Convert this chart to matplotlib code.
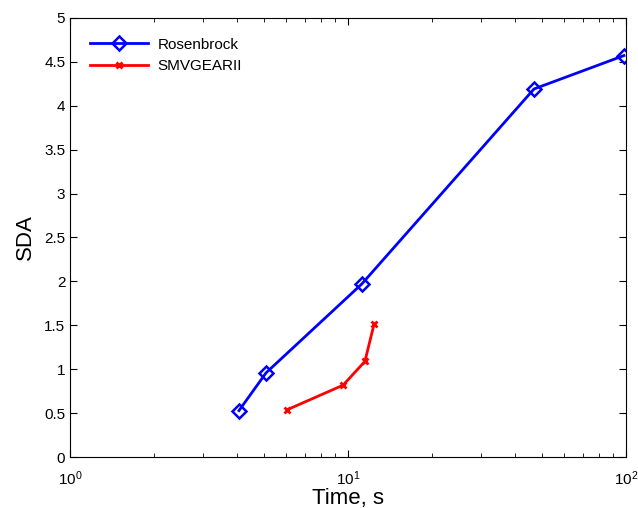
import matplotlib
matplotlib.use('Agg')
import matplotlib.pyplot as plt

plt.rcParams['font.family'] = ['Liberation Sans', 'DejaVu Sans']

# data
ros_time = [4.05, 5.07, 11.2, 46.7, 98.4]
ros_sda = [0.53, 0.96, 1.97, 4.19, 4.57]
smv_time = [6.04, 9.6, 11.5, 12.4]
smv_sda = [0.54, 0.82, 1.09, 1.51]

fig = plt.figure(figsize=(6.38, 5.08), dpi=100)
ax = fig.add_axes([0.110, 0.100, 0.871, 0.865])

ax.semilogx(ros_time, ros_sda, color='blue', linewidth=2, marker='D',
            markersize=7, markerfacecolor='none', markeredgewidth=1.8,
            label='Rosenbrock')
ax.semilogx(smv_time, smv_sda, color='red', linewidth=2, marker='x',
            markersize=4, markeredgewidth=2, label='SMVGEARII')

ax.set_xlim(1, 100)
ax.set_ylim(0, 5)
ax.set_yticks([0, 0.5, 1, 1.5, 2, 2.5, 3, 3.5, 4, 4.5, 5])
ax.set_yticklabels(['0', '0.5', '1', '1.5', '2', '2.5', '3', '3.5', '4', '4.5', '5'])
ax.tick_params(which='both', direction='in', top=True, right=True, labelsize=11)
ax.tick_params(which='major', length=5)
ax.tick_params(which='minor', length=3)
ax.tick_params(axis='x', pad=9)

ax.set_xlabel('Time, s', fontsize=16, labelpad=0)
ax.set_ylabel('SDA', fontsize=16, labelpad=6)

ax.legend(loc='upper left', frameon=False, fontsize=11, handlelength=3.8,
          borderaxespad=0.9, handletextpad=0.6, labelspacing=0.5)

fig.savefig('out.png', dpi=100)
